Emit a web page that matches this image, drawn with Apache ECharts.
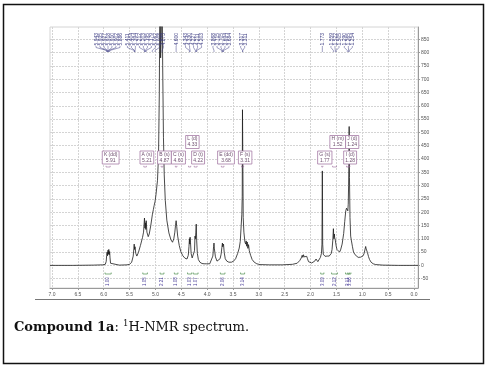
<!DOCTYPE html>
<html><head><meta charset="utf-8">
<script src="https://cdn.jsdelivr.net/npm/echarts@6/dist/echarts.min.js"></script>
<style>html,body{margin:0;padding:0;background:#fff}#c{width:488px;height:369px}</style>
</head><body><div id="c"></div>
<script>
// ---- spectrum (chemical shift in ppm, intensity) ----
const ppm = [7.039,6.60,6.20,6.02,5.97,5.952,5.943,5.935,5.927,5.918,5.910,5.902,5.894,5.886,5.878,5.868,5.85,5.70,5.55,5.50,5.46,5.43,5.418,5.411,5.404,5.394,5.38,5.36,5.33,5.29,5.25,5.23,5.212,5.203,5.195,5.187,5.179,5.165,5.14,5.12,5.09,5.06,5.04,5.025,5.008,4.99,4.96,4.94,4.925,4.912,4.900,4.888,4.873,4.86,4.845,4.83,4.81,4.78,4.74,4.70,4.67,4.645,4.625,4.612,4.600,4.588,4.57,4.54,4.51,4.47,4.43,4.39,4.365,4.352,4.343,4.336,4.330,4.322,4.31,4.29,4.265,4.245,4.235,4.227,4.219,4.211,4.203,4.19,4.17,4.14,4.10,4.06,4.03,4.01,3.98,3.95,3.92,3.89,3.876,3.868,3.860,3.852,3.84,3.81,3.78,3.75,3.73,3.715,3.705,3.699,3.694,3.689,3.684,3.67,3.65,3.62,3.58,3.53,3.49,3.45,3.41,3.38,3.36,3.345,3.33,3.322,3.317,3.311,3.303,3.29,3.27,3.255,3.245,3.235,3.225,3.213,3.20,3.185,3.16,3.13,3.09,3.04,2.98,2.80,2.55,2.35,2.26,2.21,2.18,2.162,2.15,2.138,2.125,2.11,2.09,2.075,2.06,2.04,2.01,1.98,1.95,1.92,1.895,1.88,1.86,1.84,1.81,1.79,1.780,1.773,1.766,1.755,1.74,1.72,1.70,1.68,1.66,1.64,1.62,1.60,1.585,1.570,1.559,1.550,1.540,1.535,1.528,1.522,1.505,1.49,1.475,1.46,1.44,1.42,1.39,1.36,1.34,1.32,1.305,1.290,1.280,1.272,1.265,1.259,1.254,1.248,1.238,1.225,1.21,1.19,1.17,1.14,1.11,1.08,1.05,1.03,1.005,0.985,0.965,0.95,0.935,0.925,0.915,0.90,0.88,0.86,0.83,0.79,0.74,0.60,0.30,-0.077];
const intensity = [0,0,1,2,4,15,38,50,36,57,42,60,40,52,28,8,3,1,2,4,12,35,62,80,60,70,45,35,48,75,105,125,178,140,160,135,168,125,108,118,150,190,210,225,240,265,320,420,650,1100,780,860,1100,750,480,340,245,170,122,96,87,100,125,150,168,145,110,75,52,36,27,24,38,70,100,80,106,85,45,28,27,55,110,100,125,155,95,45,22,12,7,6,10,6,9,6,12,35,70,84,62,66,32,16,15,25,42,68,84,70,76,66,80,48,25,16,12,12,16,25,45,65,90,140,190,260,585,420,180,125,88,80,92,72,88,64,78,55,38,22,12,6,3,2,2,4,8,18,28,38,30,40,32,36,26,34,25,14,8,9,12,16,24,27,14,16,30,45,80,355,80,42,36,34,37,35,32,35,38,45,60,95,138,100,118,105,112,95,72,60,55,62,50,58,80,120,165,205,215,222,205,230,300,390,522,330,180,110,92,70,50,40,35,30,29,31,34,36,45,58,71,62,66,48,33,22,12,6,3,1,0,0];

// ---- axes ----
const xTickValues = [0.0,0.5,1.0,1.5,2.0,2.5,3.0,3.5,4.0,4.5,5.0,5.5,6.0,6.5,7.0];
const yTickValues = [-50,0,50,100,150,200,250,300,350,400,450,500,550,600,650,700,750,800,850];

// ---- peak picking labels ----
const peakShifts = ['5.943','5.935','5.927','5.918','5.910','5.902','5.886','5.411','5.404','5.394','5.212','5.203','5.195','5.179','5.062','5.008','4.873','4.600','4.343','4.330','4.227','4.211','4.203','3.868','3.715','3.705','3.694','3.684','3.317','3.311','1.773','1.559','1.522','1.505','1.290','1.265','1.254'];

// ---- multiplets (letters in assignment order) ----
const multipletNames = ['A (s)','B (s)','C (s)','D (t)','E (dd)','F (s)','G (s)','H (m)','I (d)','J (d)','K (dd)','L (d)'];
const multipletShifts = ['5.21','4.87','4.60','4.22','3.68','3.31','1.77','1.52','1.28','1.24','5.91','4.33'];
const multipletFrom = [5.225,4.89,4.615,4.25,3.725,3.335,1.785,1.575,1.305,1.262,5.955,4.36];
const multipletTo = [5.175,4.855,4.585,4.195,3.675,3.295,1.762,1.500,1.270,1.240,5.875,4.318];
const integralValues = ['1.05','2.21','1.08','1.07','2.06','3.14','3.09','2.12','3.11','3.16','1.00','1.03'];

const chart = echarts.init(document.getElementById('c'), null, {renderer: 'canvas'});
const spectrum = ppm.map((p, i) => [p, intensity[i]]);
const gridColor = '#d4d4d4';
chart.setOption({
  animation: false,
  grid: {left: 50, right: 70, top: 27, bottom: 81, show: true, borderColor: gridColor, borderWidth: 1},
  xAxis: {
    type: 'value', inverse: true, min: -0.077, max: 7.039,
    axisLine: {show: true, onZero: false, lineStyle: {color: '#9a9a9a', width: 1}},
    axisTick: {show: true, customValues: xTickValues, length: 2, lineStyle: {color: '#9a9a9a'}},
    axisLabel: {customValues: xTickValues, formatter: v => Number(v).toFixed(1), fontSize: 5, color: '#555', margin: 4},
    splitLine: {show: true, lineStyle: {color: gridColor, type: [2, 1], width: 1}}
  },
  yAxis: {
    type: 'value', position: 'right', min: -85, max: 896,
    axisLine: {show: true, onZero: false, lineStyle: {color: '#9a9a9a', width: 1}},
    axisTick: {show: true, customValues: yTickValues, length: 2, lineStyle: {color: '#9a9a9a'}},
    axisLabel: {customValues: yTickValues, fontSize: 5, color: '#555', margin: 3},
    splitLine: {show: true, lineStyle: {color: gridColor, type: [2, 1], width: 1}}
  },
  series: [{
    type: 'line', data: spectrum, symbol: 'none', showSymbol: false, silent: true,
    clip: true, lineStyle: {color: '#1c1c1c', width: 0.8}, z: 5
  }]
});

const px = p => chart.convertToPixel({xAxisIndex: 0}, p);
const mctx = document.createElement('canvas').getContext('2d');
function measure(t, font) { mctx.font = font; return mctx.measureText(t).width; }

const g = [];
const labelColor = '#3b3b82';
// peak labels: cluster to avoid overlap
const sp = 4.0;
const wanted = peakShifts.map(s => px(parseFloat(s)));
const order = wanted.map((x, i) => i).sort((a, b) => wanted[a] - wanted[b]);
let clusters = [];
order.forEach(i => {
  clusters.push({n: 1, sum: wanted[i], start: wanted[i], idx: [i]});
  while (clusters.length > 1) {
    const a = clusters[clusters.length - 2], b = clusters[clusters.length - 1];
    const aEnd = a.start + (a.n - 1) * sp;
    if (b.start - aEnd < sp) {
      const n = a.n + b.n, sum = a.sum + b.sum, c = sum / n;
      clusters.splice(clusters.length - 2, 2, {n, sum, start: c - (n - 1) * sp / 2, idx: a.idx.concat(b.idx)});
    } else break;
  }
});
clusters.forEach(c => {
  c.idx.forEach((i, k) => {
    const lx = c.start + k * sp, tx = wanted[i];
    g.push({type: 'text', x: lx + 0.5, y: 45.5, rotation: Math.PI / 2, silent: true, z: 10,
      style: {text: peakShifts[i], x: 0, y: 0, fontSize: 5, fill: labelColor, align: 'left', textAlign: 'left', verticalAlign: 'middle', textVerticalAlign: 'middle'}});
    g.push({type: 'polyline', silent: true, z: 10,
      shape: {points: [[lx, 46], [lx, 47.5], [tx, 50.5], [tx, 52]]},
      style: {stroke: labelColor, lineWidth: 0.5, fill: null}});
  });
});

// multiplet boxes, placed in letter order on two rows
const boxFont = '5px sans-serif';
const rows = [[], []];
const rowTop = [151, 135.5];
multipletNames.forEach((name, i) => {
  const cx = px(parseFloat(multipletShifts[i])) + 2.3;
  const w = Math.max(measure(name, boxFont), measure(multipletShifts[i], boxFont)) + 3.2;
  const x0 = cx - w / 2, x1 = cx + w / 2;
  let r = 0;
  while (r < rows.length - 1 && rows[r].some(b => x0 < b[1] && x1 > b[0])) r++;
  rows[r].push([x0, x1]);
  const top = rowTop[r];
  g.push({type: 'rect', silent: true, z: 12, shape: {x: x0, y: top, width: w, height: 13},
    style: {fill: '#fff', stroke: '#a67ba6', lineWidth: 0.8}});
  g.push({type: 'text', silent: true, z: 13, x: cx, y: top + 6.6,
    style: {text: name + '\n' + multipletShifts[i], fontSize: 5, lineHeight: 6, fill: '#6e4f6e', align: 'center', textAlign: 'center', verticalAlign: 'middle', textVerticalAlign: 'middle'}});
  // range mark under the boxes
  const a = px(multipletFrom[i]), b = px(multipletTo[i]);
  g.push({type: 'polyline', silent: true, z: 12, shape: {points: [[a, 165.8], [a, 167], [b, 167], [b, 165.8]]},
    style: {stroke: '#9a6a9a', lineWidth: 0.6, fill: null}});
  // integral bracket and value
  g.push({type: 'polyline', silent: true, z: 12, shape: {points: [[a - 1, 272.5], [a - 1, 274], [b + 1, 274], [b + 1, 272.5]]},
    style: {stroke: '#4f8f4f', lineWidth: 0.7, fill: null}});
  g.push({type: 'text', silent: true, z: 12, x: (a + b) / 2, y: 286, rotation: Math.PI / 2,
    style: {text: integralValues[i], x: 0, y: 0, fontSize: 4.5, fill: '#4a3f9a', align: 'left', textAlign: 'left', verticalAlign: 'middle', textVerticalAlign: 'middle'}});
});

// bottom rule of the figure
g.push({type: 'line', silent: true, shape: {x1: 35, y1: 299.5, x2: 430, y2: 299.5}, style: {stroke: '#777', lineWidth: 1}});
// outer frame
g.push({type: 'rect', silent: true, shape: {x: 3.5, y: 4.5, width: 480, height: 359}, style: {fill: null, stroke: '#111', lineWidth: 1.5}});

// caption
const capFamily = '"DejaVu Serif", "Liberation Serif", serif';
const fs = 13;
let cx0 = 14;
const parts = [
  {t: 'Compound 1a', w: 'bold', s: fs, dy: 0},
  {t: ': ', w: 'normal', s: fs, dy: 0},
  {t: '1', w: 'normal', s: 8.5, dy: -4.5},
  {t: 'H-NMR spectrum.', w: 'normal', s: fs, dy: 0}
];
parts.forEach(p => {
  const width = measure(p.t, p.w + ' ' + p.s + 'px ' + capFamily);
  g.push({type: 'text', silent: true, x: cx0, y: 328 + p.dy,
    style: {text: p.t, x: 0, y: 0, fontSize: p.s, fontWeight: p.w, fontFamily: capFamily, fill: '#111', align: 'left', textAlign: 'left', verticalAlign: 'middle', textVerticalAlign: 'middle'}});
  cx0 += width;
});

chart.setOption({graphic: {elements: g}});
</script></body></html>
